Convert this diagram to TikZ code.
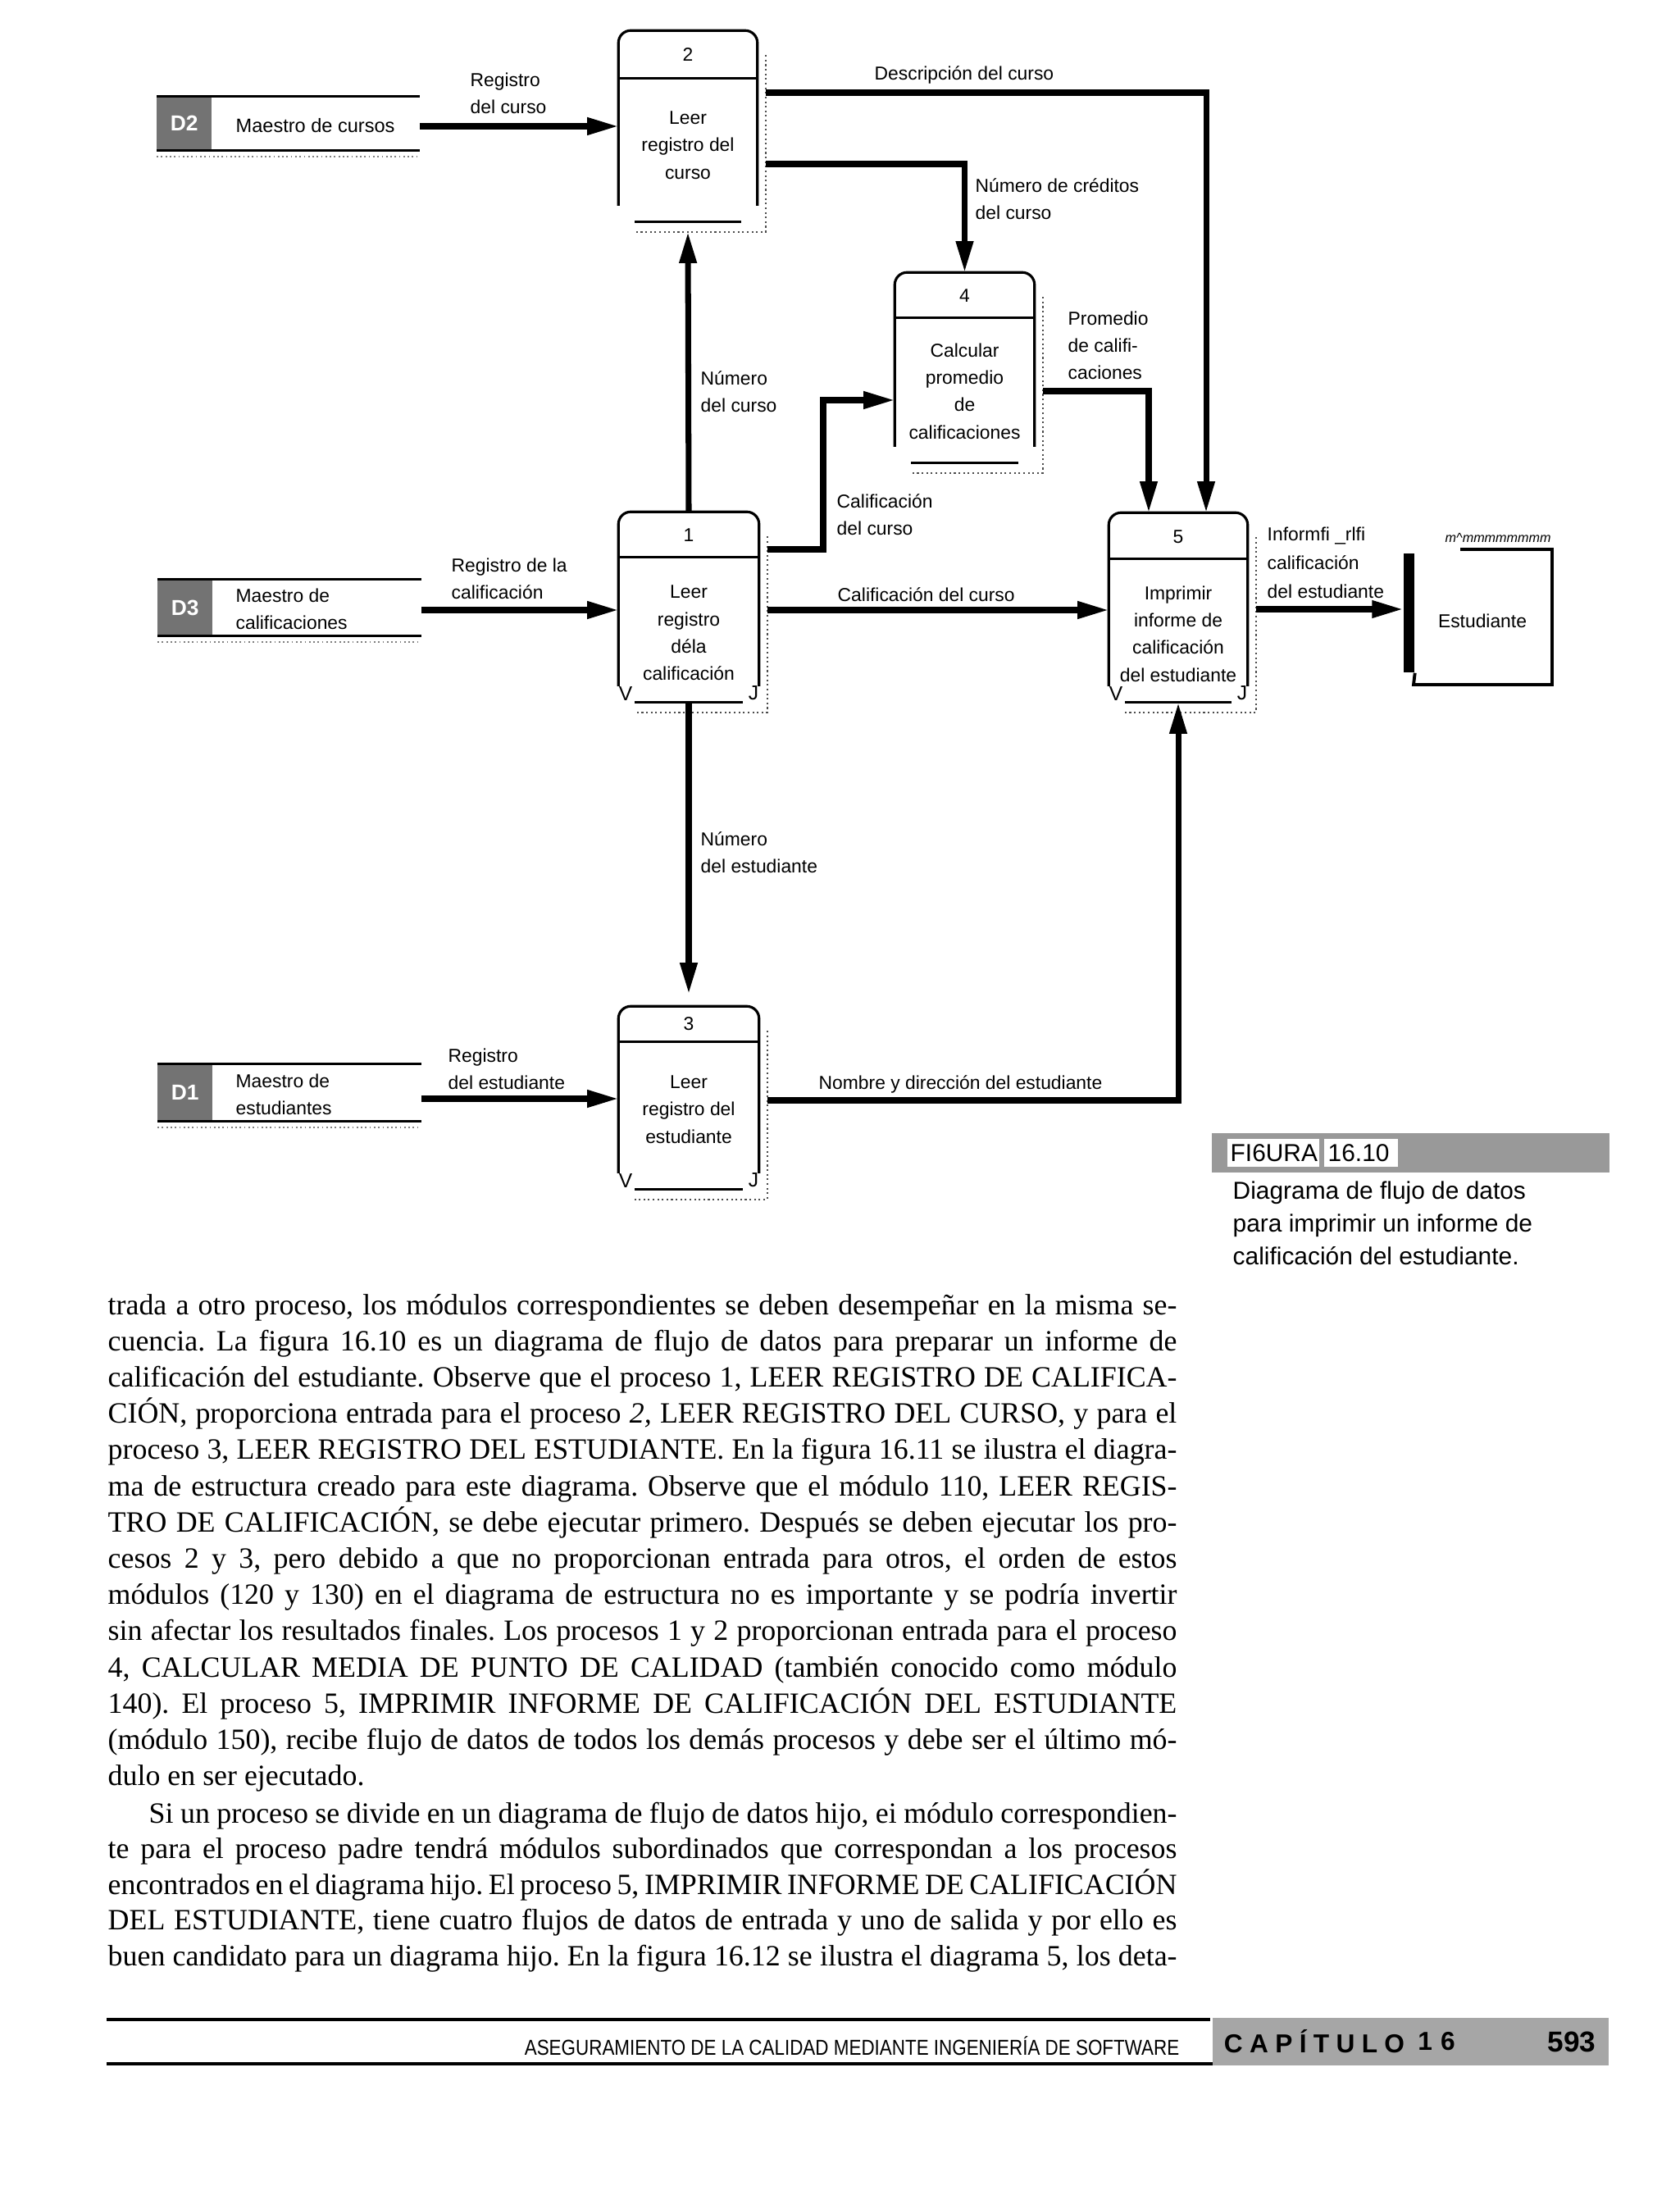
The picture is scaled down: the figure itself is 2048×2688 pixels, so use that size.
\documentclass[tikz,border=0pt]{standalone}
\usepackage{fontspec}
\setmainfont{Liberation Serif}
\newfontfamily\lsans{Liberation Sans}
\newfontfamily\lnarrow[FakeStretch=0.85]{Liberation Sans}
\usetikzlibrary{arrows.meta,calc}
\newcommand\jl[1]{\hbox to 13.03cm{\frenchspacing\spaceskip=0.25em plus 0.6em minus 0.13em\relax #1}}
\newcommand\procbox[3]{%
  \draw[boxline, rounded corners=0.15cm] ([yshift=0.2cm]#1.south west) -- (#1.north west) -- (#1.north east) -- ([yshift=0.2cm]#1.south east);
  \draw[boxline] ([xshift=0.2cm]#1.south west) -- ([xshift=-0.2cm]#1.south east);
  \draw[boxline] ([yshift=-#2]#1.north west) -- ([yshift=-#2]#1.north east);
  \draw[shadowline] ([xshift=0.1cm,yshift=-0.3cm]#1.north east) -- ([xshift=0.1cm,yshift=-0.12cm]#1.south east) -- ([xshift=0.2cm,yshift=-0.12cm]#1.south west);
  \ifnum#3=1
   \node[vj, anchor=south west] (#1v) at ([yshift=0.02cm]#1.south west) {V};
   \node[vj, anchor=south east] (#1j) at ([yshift=0.02cm]#1.south east) {J};
  \fi
}
\newcommand\storebox[2]{%
  \fill[black!55] (#1.north west) rectangle ([xshift=0.67cm]#1.south west);
  \node[font=\lsans\bfseries\fontsize{7.5}{8}\selectfont, text=white, inner sep=0] (#1lab) at ($(#1.north west)!0.5!([xshift=0.67cm]#1.south west)$) {#2};
  \draw[storeline] (#1.north west) -- (#1.north east);
  \draw[storeline] (#1.south west) -- (#1.south east);
  \draw[densely dotted, black!50, line width=0.5pt] ([yshift=-0.07cm]#1.south west) -- ([yshift=-0.07cm]#1.south east);
}
\begin{document}
\begin{tikzpicture}[x=0.01cm,y=-0.01cm,
  boxline/.style={line width=0.9pt},
  storeline/.style={line width=1pt},
  shadowline/.style={densely dotted, line width=0.6pt, black!70},
  vj/.style={font=\lsans\fontsize{7}{7}\selectfont, inner sep=0},
  flow/.style={line width=2pt, -{Triangle[length=0.38cm,width=0.2cm]}},
  proc/.style={draw=none, inner sep=0},
  lbl/.style={font=\lsans\fontsize{6.5}{9.4}\selectfont, align=left, anchor=west, inner sep=0},
  ptext/.style={font=\lsans\fontsize{6.5}{9.5}\selectfont, align=center, inner sep=0},
  body/.style={font=\fontsize{10.2}{12.6}\selectfont, anchor=base west, inner sep=0},
  captxt/.style={font=\lsans\fontsize{8.5}{11.4}\selectfont, inner sep=0}]
\fill[white] (0,0) rectangle (2048,2688);
\useasboundingbox (0,0) rectangle (2048,2688);

% process boxes
\node[proc, minimum width=1.68cm, minimum height=2.32cm] (p2) at (839,154) {};
\node[proc, minimum width=1.70cm, minimum height=2.31cm] (p1) at (840,740.5) {};
\node[proc, minimum width=1.70cm, minimum height=2.22cm] (p3) at (840,1339) {};
\node[proc, minimum width=1.69cm, minimum height=2.31cm] (p4) at (1176.5,448.5) {};
\node[proc, minimum width=1.68cm, minimum height=2.30cm] (p5) at (1437,741) {};
\procbox{p2}{0.58cm}{0}
\procbox{p1}{0.55cm}{1}
\procbox{p3}{0.43cm}{1}
\procbox{p4}{0.55cm}{0}
\procbox{p5}{0.56cm}{1}

\node[ptext] (p2n) at (839,67) {2};
\node[ptext] (p2t) at (839,177) {Leer\\registro del\\curso};
\node[ptext] (p1n) at (840,653) {1};
\node[ptext] (p1t) at (840,772) {Leer\\registro\\déla\\calificación};
\node[ptext] (p3n) at (840,1249) {3};
\node[ptext] (p3t) at (840,1353) {Leer\\registro del\\estudiante};
\node[ptext] (p4n) at (1176.5,361) {4};
\node[ptext] (p4t) at (1176.5,477) {Calcular\\promedio\\de\\calificaciones};
\node[ptext] (p5n) at (1437,655) {5};
\node[ptext] (p5t) at (1437,773) {Imprimir\\informe de\\calificación\\del estudiante};

% data stores
\node[proc, minimum width=3.19cm, minimum height=0.65cm] (d2) at (351.5,150.5) {};
\node[proc, minimum width=3.20cm, minimum height=0.68cm] (d3) at (353,741) {};
\node[proc, minimum width=3.20cm, minimum height=0.69cm] (d1) at (353,1332.5) {};
\storebox{d2}{D2}
\storebox{d3}{D3}
\storebox{d1}{D1}
\node[lbl, font=\lsans\fontsize{6.7}{9.4}\selectfont] (d2t) at (287,153) {Maestro de cursos};
\node[lbl] (d3t) at (287,743) {Maestro de\\calificaciones};
\node[lbl] (d1t) at (287,1335) {Maestro de\\estudiantes};

% external entity
\node[fill=black, inner sep=0, minimum width=0.13cm, minimum height=1.45cm] (estbar) at (1718.5,747.5) {};
\draw[boxline, line width=1.1pt] (1781,670) -- (1893,670) -- (1893,835) -- (1724,835) -- (estbar.south east);
\node[ptext] (est) at (1808,757) {Estudiante};
\node[font=\lsans\itshape\fontsize{4.6}{5}\selectfont, inner sep=0, anchor=west] (estm) at (1762,656) {m\textasciicircum mmmmmmmm};

% flows
\draw[flow] (d2.east |- 0,154) -- (p2.west |- 0,154);
\draw[flow] (d3.east |- 0,744) -- (p1.west |- 0,744);
\draw[flow] (d1.east |- 0,1340) -- (p3.west |- 0,1340);
\draw[flow] (p1.north) -- ([yshift=-0.12cm]p2.south);
\draw[flow] (p1.south) -- ([yshift=0.15cm]p3.north);
\draw[flow, shorten <=0.1cm] (p2.east |- 0,200) -| (p4.north);
\draw[flow, shorten <=0.1cm] (p2.east |- 0,113) -| ([xshift=0.34cm]p5.north);
\draw[flow, shorten <=0.1cm] (p4.east |- 0,477) -| ([xshift=-0.36cm]p5.north);
\draw[flow, shorten <=0.1cm] (p1.east |- 0,670) -- (1004,670) -- (1004,488) -- (p4.west |- 0,488);
\draw[flow, shorten <=0.1cm] (p1.east |- 0,744) -- (p5.west |- 0,744);
\draw[flow, shorten <=0.1cm] (p3.east |- 0,1342) -| (p5.south);
\draw[flow, shorten <=0.1cm] (p5.east |- 0,743) -- (estbar.west |- 0,743);

% flow labels
\node[lbl] (l1) at (573,114) {Registro\\del curso};
\node[lbl] (l2) at (1066,91) {Descripción del curso};
\node[lbl] (l3) at (1189,243) {Número de créditos\\del curso};
\node[lbl] (l4) at (854,478) {Número\\del curso};
\node[lbl] (l5) at (1302,421) {Promedio\\de califi-\\caciones};
\node[lbl] (l6) at (1020,628) {Calificación\\del curso};
\node[lbl] (l7) at (1021,725) {Calificación del curso};
\node[lbl] (l8) at (550,706) {Registro de la\\calificación};
\node[lbl] (l9) at (854,1040) {Número\\del estudiante};
\node[lbl] (l10) at (546,1304) {Registro\\del estudiante};
\node[lbl] (l11) at (998,1322) {Nombre y dirección del estudiante};
\node[lbl, font=\lsans\fontsize{6.5}{10}\selectfont] (l12) at (1545,686) {Informfi \_rlfi\\calificación\\del estudiante};

% caption
\fill[black!40] (1478,1382) rectangle (1963,1430);
\fill[white] (1497,1389) rectangle (1609,1423);
\fill[white] (1615,1389) rectangle (1705,1423);
\node[captxt, anchor=west] (figno) at (1500,1406) {FI6URA};
\node[captxt, anchor=west] (fignum) at (1619,1406) {16.10};
\node[captxt, anchor=west, align=left] (figcap) at (1503,1492) {Diagrama de flujo de datos\\para imprimir un informe de\\calificación del estudiante.};

% body text
\node[body] (t1) at (131,1603) {\jl{trada a otro proceso, los módulos correspondientes se deben desempeñar en la misma se-}};
\node[body] (t2) at (131,1647.2) {\jl{cuencia. La figura 16.10 es un diagrama de flujo de datos para preparar un informe de}};
\node[body] (t3) at (131,1691.4) {\jl{calificación del estudiante. Observe que el proceso 1, LEER REGISTRO DE CALIFICA-}};
\node[body] (t4) at (131,1735.6) {\jl{CIÓN, proporciona entrada para el proceso \textit{2,} LEER REGISTRO DEL CURSO, y para el}};
\node[body] (t5) at (131,1779.8) {\jl{proceso 3, LEER REGISTRO DEL ESTUDIANTE. En la figura 16.11 se ilustra el diagra-}};
\node[body] (t6) at (131,1824) {\jl{ma de estructura creado para este diagrama. Observe que el módulo 110, LEER REGIS-}};
\node[body] (t7) at (131,1868.2) {\jl{TRO DE CALIFICACIÓN, se debe ejecutar primero. Después se deben ejecutar los pro-}};
\node[body] (t8) at (131,1912.4) {\jl{cesos 2 y 3, pero debido a que no proporcionan entrada para otros, el orden de estos}};
\node[body] (t9) at (131,1956.6) {\jl{módulos (120 y 130) en el diagrama de estructura no es importante y se podría invertir}};
\node[body] (t10) at (131,2000.8) {\jl{sin afectar los resultados finales. Los procesos 1 y 2 proporcionan entrada para el proceso}};
\node[body] (t11) at (131,2045) {\jl{4, CALCULAR MEDIA DE PUNTO DE CALIDAD (también conocido como módulo}};
\node[body] (t12) at (131,2089.2) {\jl{140). El proceso 5, IMPRIMIR INFORME DE CALIFICACIÓN DEL ESTUDIANTE}};
\node[body] (t13) at (131,2133.4) {\jl{(módulo 150), recibe flujo de datos de todos los demás procesos y debe ser el último mó-}};
\node[body] (t14) at (131,2177.6) {dulo en ser ejecutado.};
\node[body] (t15) at (131,2223) {\jl{\hskip0.5cm Si un proceso se divide en un diagrama de flujo de datos hijo, ei módulo correspondien-}};
\node[body] (t16) at (131,2266.6) {\jl{te para el proceso padre tendrá módulos subordinados que correspondan a los procesos}};
\node[body] (t17) at (131,2310.2) {\jl{encontrados en el diagrama hijo. El proceso 5, IMPRIMIR INFORME DE CALIFICACIÓN}};
\node[body] (t18) at (131,2353.8) {\jl{DEL ESTUDIANTE, tiene cuatro flujos de datos de entrada y uno de salida y por ello es}};
\node[body] (t19) at (131,2397.4) {\jl{buen candidato para un diagrama hijo. En la figura 16.12 se ilustra el diagrama 5, los deta-}};

% footer
\draw[line width=1.2pt] (130,2463) -- (1476,2463);
\draw[line width=1.2pt] (130,2517) -- (1482,2517);
\node[font=\lnarrow\fontsize{7.5}{8}\selectfont, inner sep=0, anchor=east] (foot) at (1439,2495) {ASEGURAMIENTO DE LA CALIDAD MEDIANTE INGENIERÍA DE SOFTWARE};
\fill[black!35] (1479,2461) rectangle (1962,2519);
\node[font=\lsans\bfseries\fontsize{9}{9}\selectfont, inner sep=0] (chap) at (1603,2490) {\makebox[2.2cm][s]{C A P Í T U L O}};
\node[font=\lsans\bfseries\fontsize{9}{9}\selectfont, inner sep=0] (chapn) at (1752,2490) {1\hspace{0.1cm}6};
\node[font=\lsans\bfseries\fontsize{10}{10}\selectfont, inner sep=0] (pageno) at (1917,2490) {593};
\end{tikzpicture}
\end{document}
